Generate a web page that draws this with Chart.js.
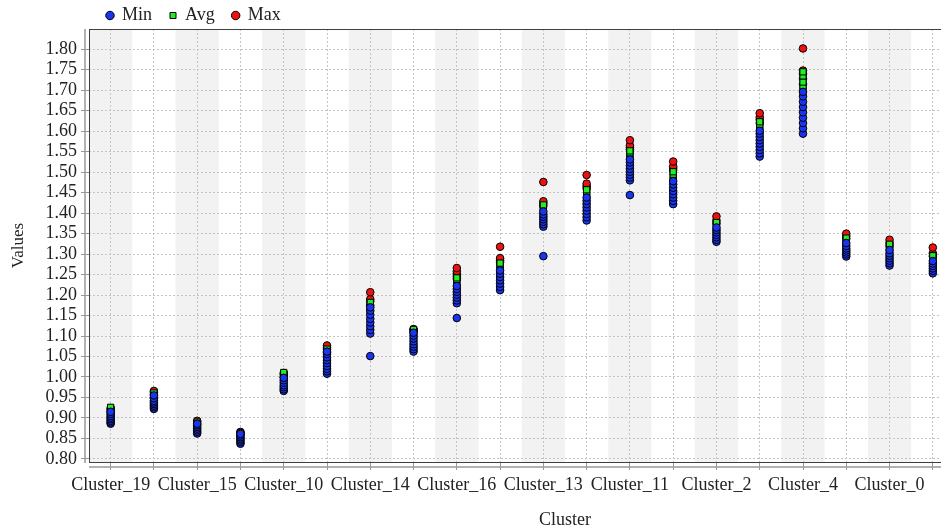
<!DOCTYPE html>
<html>
<head>
<meta charset="utf-8">
<script src="https://cdn.jsdelivr.net/npm/chart.js@4.4.1/dist/chart.umd.min.js"></script>
<style>
  html, body { margin: 0; padding: 0; background: #fff; overflow: hidden; }
  #wrap { width: 941px; height: 529px; overflow: hidden; }
</style>
</head>
<body>
<div id="wrap"><canvas id="chart" width="1050" height="529"></canvas></div>
<script>
// categories (only every other one is labelled in the picture, the last two are cut off)
const clusters = [
  'Cluster_19', 'Cluster_18', 'Cluster_15', 'Cluster_17', 'Cluster_10', 'Cluster_12',
  'Cluster_14', 'Cluster_9', 'Cluster_16', 'Cluster_8', 'Cluster_13', 'Cluster_7',
  'Cluster_11', 'Cluster_6', 'Cluster_2', 'Cluster_5', 'Cluster_4', 'Cluster_3',
  'Cluster_0', 'Cluster_1', 'Cluster_20', 'Cluster_21'
];

const minValues = [
  [0.886, 0.889, 0.893, 0.897, 0.901, 0.905, 0.910, 0.915],
  [0.922, 0.926, 0.930, 0.934, 0.938, 0.942, 0.948, 0.955],
  [0.862, 0.866, 0.870, 0.874, 0.878, 0.882, 0.886],
  [0.837, 0.841, 0.845, 0.849, 0.853, 0.857, 0.861],
  [0.966, 0.970, 0.975, 0.980, 0.986, 0.992, 0.998],
  [1.008, 1.014, 1.020, 1.027, 1.034, 1.041, 1.048, 1.056, 1.062],
  [1.051, 1.106, 1.115, 1.124, 1.133, 1.142, 1.152, 1.162, 1.170],
  [1.062, 1.068, 1.074, 1.080, 1.087, 1.094, 1.101, 1.108],
  [1.144, 1.180, 1.187, 1.194, 1.201, 1.208, 1.215, 1.222],
  [1.212, 1.220, 1.228, 1.236, 1.244, 1.252, 1.260],
  [1.295, 1.367, 1.373, 1.379, 1.385, 1.391, 1.397, 1.404],
  [1.382, 1.390, 1.398, 1.406, 1.414, 1.422, 1.430, 1.438],
  [1.444, 1.480, 1.487, 1.494, 1.501, 1.508, 1.516, 1.524, 1.531],
  [1.422, 1.430, 1.438, 1.446, 1.454, 1.462, 1.470, 1.478],
  [1.330, 1.335, 1.341, 1.347, 1.353, 1.359, 1.365],
  [1.538, 1.546, 1.554, 1.562, 1.570, 1.578, 1.586, 1.594, 1.601],
  [1.594, 1.607, 1.620, 1.633, 1.646, 1.659, 1.672, 1.685, 1.696],
  [1.294, 1.299, 1.304, 1.309, 1.314, 1.320, 1.327],
  [1.272, 1.278, 1.284, 1.290, 1.296, 1.302, 1.310],
  [1.253, 1.259, 1.265, 1.271, 1.277, 1.283]
];

const avgValues = [
  [0.905, 0.910, 0.915, 0.920, 0.923, 0.926],
  [0.935, 0.945, 0.952, 0.958, 0.961],
  [0.875, 0.882, 0.887, 0.890],
  [0.855, 0.860, 0.864],
  [0.995, 1.002, 1.008, 1.011],
  [1.050, 1.058, 1.064, 1.068],
  [1.160, 1.170, 1.178, 1.182],
  [1.105, 1.112, 1.116],
  [1.225, 1.232, 1.238, 1.242],
  [1.262, 1.268, 1.273, 1.278],
  [1.405, 1.411, 1.416, 1.420],
  [1.440, 1.446, 1.452, 1.457],
  [1.535, 1.541, 1.547, 1.552],
  [1.480, 1.488, 1.495, 1.501],
  [1.366, 1.372, 1.377],
  [1.604, 1.611, 1.617, 1.623],
  [1.700, 1.710, 1.720, 1.735, 1.745],
  [1.328, 1.334, 1.339],
  [1.312, 1.318, 1.324],
  [1.285, 1.291, 1.296]
];

const maxValues = [
  [0.915, 0.920, 0.924],
  [0.950, 0.958, 0.963, 0.966],
  [0.885, 0.890, 0.893],
  [0.860, 0.864, 0.866],
  [1.000, 1.006, 1.010],
  [1.060, 1.068, 1.072, 1.077],
  [1.175, 1.185, 1.190, 1.207],
  [1.110, 1.115, 1.117],
  [1.240, 1.246, 1.252, 1.258, 1.266],
  [1.280, 1.285, 1.290, 1.318],
  [1.418, 1.424, 1.429, 1.476],
  [1.460, 1.466, 1.472, 1.493],
  [1.555, 1.560, 1.565, 1.578],
  [1.505, 1.510, 1.514, 1.526],
  [1.375, 1.382, 1.392],
  [1.620, 1.628, 1.634, 1.644],
  [1.715, 1.728, 1.740, 1.748, 1.802],
  [1.338, 1.344, 1.350],
  [1.320, 1.327, 1.335],
  [1.295, 1.302, 1.316]
];

const FONT = 'Liberation Serif, Times New Roman, serif';
const TEXT = '#222222';

const toPoints = (rows) =>
  rows.flatMap((vals, i) => vals.map((v) => ({ x: clusters[i], y: v })));

// grey bands behind every other cluster, plot frame and offset axis lines
const plotDecor = {
  id: 'plotDecor',
  beforeDraw(chart) {
    const { ctx, chartArea: a } = chart;
    const x = chart.scales.x;
    const step = x.width / clusters.length;
    ctx.save();
    ctx.fillStyle = '#ffffff';
    ctx.fillRect(0, 0, chart.width, chart.height);
    ctx.fillStyle = '#f2f2f2';
    clusters.forEach((c, i) => {
      if (i % 2) return;
      const cx = x.getPixelForValue(i);
      ctx.fillRect(cx - step / 2, a.top, step, a.bottom - a.top);
    });
    ctx.restore();
  },
  afterLayout(chart) {
    // nudge the legend down a little
    const lg = chart.legend;
    lg.top += 5.5;
    lg.bottom += 5.5;
  },
  afterDraw(chart) {
    const { ctx, chartArea: a } = chart;
    ctx.save();
    ctx.strokeStyle = '#404040';
    ctx.lineWidth = 1;
    ctx.strokeRect(a.left + 0.5, a.top + 0.5, a.right - a.left, a.bottom - a.top);
    ctx.strokeStyle = '#999999';
    ctx.lineWidth = 1.5;
    ctx.beginPath();
    ctx.moveTo(a.left - 4, a.top);
    ctx.lineTo(a.left - 4, a.bottom + 1);
    ctx.moveTo(a.left, a.bottom + 5);
    ctx.lineTo(a.right, a.bottom + 5);
    ctx.stroke();
    ctx.restore();
  }
};

new Chart(document.getElementById('chart'), {
  type: 'scatter',
  data: {
    labels: clusters,
    datasets: [
      {
        label: 'Min',
        data: toPoints(minValues),
        pointStyle: 'circle',
        pointRadius: 3.8,
        backgroundColor: '#1a35f0',
        borderColor: '#000000',
        borderWidth: 1,
      },
      {
        label: 'Avg',
        data: toPoints(avgValues),
        pointStyle: 'rect',
        pointRadius: 4.4,
        backgroundColor: '#22ee22',
        borderColor: '#000000',
        borderWidth: 1,
      },
      {
        label: 'Max',
        data: toPoints(maxValues),
        pointStyle: 'circle',
        pointRadius: 3.8,
        backgroundColor: '#ee1111',
        borderColor: '#000000',
        borderWidth: 1,
      },
    ],
  },
  options: {
    responsive: false,
    animation: false,
    layout: { padding: { top: -17, right: 9, bottom: 0, left: 0 } },
    plugins: {
      legend: {
        position: 'top',
        align: 'start',
        fullSize: false,
        labels: {
          usePointStyle: true,
          boxWidth: 6,
          boxHeight: 6,
          padding: 18,
          color: TEXT,
          font: { family: FONT, size: 18 },
        },
      },
      tooltip: { enabled: false },
    },
    scales: {
      x: {
        type: 'category',
        labels: clusters,
        offset: true,
        afterFit: (s) => { s.height = 67; },
        grid: {
          color: '#c4c4c4',
          offset: false,
          tickLength: 8,
          tickColor: '#999999',
        },
        border: { display: false, dash: [2, 2] },
        ticks: {
          autoSkip: false,
          maxRotation: 0,
          padding: 4,
          color: TEXT,
          font: { family: FONT, size: 18 },
          callback: (v, i) => (i % 2 || i >= minValues.length ? '' : clusters[i]),
        },
        title: {
          display: true,
          text: 'Cluster',
          color: TEXT,
          font: { family: FONT, size: 18 },
          padding: { top: 0, bottom: -2 },
        },
      },
      y: {
        min: 0.7925,
        max: 1.8495,
        afterFit: (s) => { s.width = 89; },
        grid: {
          color: '#c4c4c4',
          tickLength: 8,
          tickColor: '#999999',
        },
        border: { display: false, dash: [2, 2] },
        ticks: {
          stepSize: 0.05,
          autoSkip: false,
          includeBounds: false,
          padding: 4,
          color: TEXT,
          font: { family: FONT, size: 18 },
          callback: (v) => Number(v).toFixed(2),
        },
        title: {
          display: true,
          text: 'Values',
          color: TEXT,
          font: { family: FONT, size: 17 },
          padding: { top: 8, bottom: 0 },
        },
      },
    },
  },
  plugins: [plotDecor],
});
</script>
</body>
</html>
